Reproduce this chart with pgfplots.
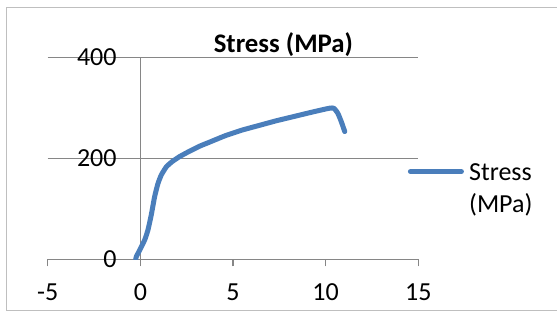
\documentclass[border=0pt]{standalone}
\usepackage{pgfplots}
\pgfplotsset{compat=1.18}
\usepackage{fontspec}
\setmainfont{Carlito}
\definecolor{xlblue}{HTML}{4A7EBB}
\definecolor{gridgray}{HTML}{868686}
\definecolor{bordergray}{HTML}{BFBFBF}
\newcommand{\lf}{\fontsize{13pt}{15.6pt}\selectfont}
\begin{document}
\begin{tikzpicture}
\useasboundingbox (0,0) rectangle (278.5pt,156pt);
\draw[bordergray, line width=0.6pt] (290pt,152.3pt) -- (3.35pt,152.3pt) -- (3.35pt,0.65pt) -- (290pt,0.65pt);
\begin{axis}[
  at={(23.85pt,26.35pt)}, anchor=south west,
  scale only axis, width=185.3pt, height=101pt,
  xmin=-5, xmax=15, ymin=0, ymax=400,
  axis line style={draw=none},
  xtick={-5,0,5,10,15}, ytick={0,200,400},
  xtick pos=bottom, ytick pos=left,
  tick align=outside, major tick length=3.5pt,
  x tick style={gridgray, line width=0.6pt},
  y tick style={draw=none},
  ymajorgrids,
  grid style={gridgray, line width=0.6pt},
  extra x ticks={0}, extra x tick labels={},
  extra x tick style={grid=major, major tick length=0pt, xmajorgrids},
  /pgf/number format/assume math mode=true,
  tick label style={font=\lf, text=black},
  xticklabel style={anchor=north, inner sep=0pt, yshift=-8.5pt},
  yticklabel style={anchor=east, inner sep=0pt, xshift=38.15pt},
  title={Stress (MPa)},
  title style={at={(axis description cs:0.636,1.002)}, anchor=center, font=\fontsize{13.4pt}{16pt}\selectfont\bfseries, inner sep=0pt},
  legend style={at={(axis description cs:0.972,0.5015)}, anchor=north west, draw=none, fill=none, inner sep=0pt, outer sep=0pt, font=\lf, row sep=2.4pt,
    nodes={inner sep=0pt, text height=11pt, text depth=2.6pt},
    /tikz/every odd column/.style={column sep=2.6pt}},
  legend cell align=left,
  legend image code/.code={\draw[#1, line cap=round] (0pt,0pt) -- (25.5pt,0pt);},
]
\addplot[xlblue, line width=2.5pt, line cap=round, line join=round, smooth, tension=0.3] coordinates {
(-0.25,0) (-0.22,5) (-0.04,18) (0.23,38) (0.41,58) (0.59,88) (0.77,124) (0.95,150)
(1.13,167) (1.40,183) (1.70,193) (2.1,203) (2.6,213) (3.2,224) (3.8,233)
(4.6,245) (5.5,256) (6.4,265) (7.3,274) (8.2,282) (9.1,290) (9.8,296)
(10.25,299.5) (10.45,299) (10.66,289) (10.85,272) (11.03,253)
};
\addlegendentry{Stress}
\addlegendimage{empty legend}
\addlegendentry{(MPa)}
\end{axis}
\end{tikzpicture}
\end{document}
